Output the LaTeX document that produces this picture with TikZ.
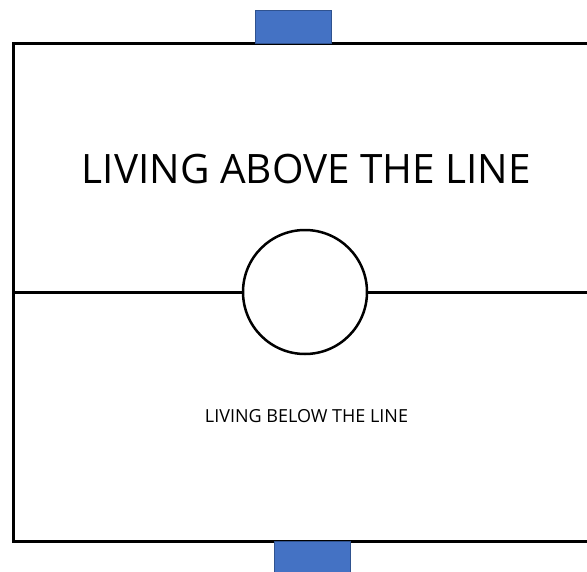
\documentclass[tikz,border=0pt]{standalone}
\usepackage{fontspec}
\setmainfont{Open Sans}
\usetikzlibrary{positioning,calc}
\definecolor{tabblue}{HTML}{4472C4}
\definecolor{tabedge}{HTML}{2F528F}
\tikzset{
  frm/.style={draw=black, line width=3pt},
  ring/.style={circle, draw=black, fill=white, line width=2.5pt, minimum size=124pt, inner sep=0pt},
  tab/.style={draw=tabedge, fill=tabblue, line width=0.8pt, minimum width=76pt, minimum height=33pt, inner sep=0pt},
  bigtxt/.style={font=\fontsize{40.5pt}{48pt}\selectfont, inner sep=0pt},
  smalltxt/.style={font=\fontsize{18pt}{22pt}\selectfont, inner sep=0pt},
}

\begin{document}
\begin{tikzpicture}[x=1pt, y=-1pt]
  \clip (0,0) rectangle (587,571);
  \fill[white] (0,0) rectangle (587,571);
  % frame and the line
  \draw[frm] (13,43.5) rectangle (620,541.5);
  \node[ring] (hub) at (305,292) {};
  \coordinate (lft) at (13,292);
  \coordinate (rgt) at (620,292);
  \draw[frm] (lft) -- (hub.west);
  \draw[frm] (hub.east) -- (rgt);
  % tabs
  \node[tab] (toptab) at (293,27) {};
  \node[tab] (bottab) at (312,557.5) {};
  % labels
  \node[bigtxt] (above) at (306.5,169) {LIVING ABOVE THE LINE};
  \node[smalltxt] (below) at (306.5,416) {LIVING BELOW THE LINE};
\end{tikzpicture}
\end{document}
